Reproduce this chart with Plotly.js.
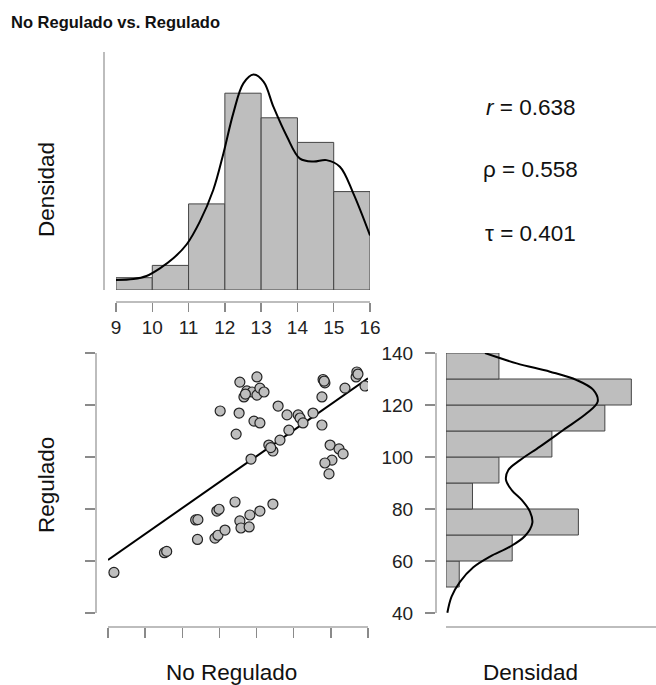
<!DOCTYPE html>
<html>
<head>
<meta charset="utf-8">
<script src="https://cdn.plot.ly/plotly-3.0.1.min.js"></script>
<style>html,body{margin:0;padding:0;background:#fff;}#chart{width:656px;height:685px;}</style>
</head>
<body>
<div id="chart"></div>
<script>
// ---- data ----
var noRegulado = [9.16,10.52,10.58,11.36,11.42,11.41,11.88,11.96,12.15,11.93,11.99,12.42,12.55,12.58,12.80,12.82,13.09,13.44,12.02,12.53,12.45,12.55,13.01,12.66,12.74,12.88,13.01,13.09,13.20,12.70,12.93,13.09,12.85,13.33,13.44,13.63,13.58,13.82,13.87,14.12,14.17,14.25,14.52,14.79,14.84,14.76,14.76,14.98,15.03,14.84,14.95,15.22,15.33,15.38,15.68,15.70,15.73,15.92,13.38,14.82];
var regulado   = [55.6,63.2,63.7,75.8,75.9,68.3,68.8,69.9,71.9,79.2,79.9,82.7,75.4,72.7,73.1,77.7,79.2,81.9,117.7,116.9,108.8,128.8,130.8,123.1,125.4,125.0,123.8,126.5,125.0,124.2,113.8,113.1,99.2,104.6,102.3,106.5,119.6,116.2,110.3,116.2,115.0,113.1,116.9,129.8,128.5,123.1,112.3,104.6,98.8,97.7,93.5,103.1,101.2,126.5,130.8,132.7,131.9,127.3,103.6,129.2];

var fitX = [9, 16];
var fitY = [60.4, 130.3];

var topBinStart = [9,10,11,12,13,14,15];
var topBinCounts = [1,2,7,16,14,12,8];
var topBinWidth = 1;

var rightBinStart = [50,60,70,80,90,100,110,120,130];
var rightBinCounts = [1,5,10,2,4,8,12,14,4];
var rightBinWidth = 10;

var topDensX = [9.0,9.48,9.84,10.21,10.58,10.95,11.31,11.68,11.96,12.23,12.51,12.79,13.07,13.34,13.71,14.07,14.44,14.80,15.17,15.54,16.0];
var topDensY = [0.0136,0.0149,0.019,0.0294,0.043,0.062,0.0926,0.1355,0.185,0.239,0.280,0.292,0.282,0.248,0.208,0.178,0.174,0.176,0.167,0.131,0.074];

var rightDensVal = [40.1,46.3,52.0,57.6,61.7,65.5,69.6,74.7,79.0,83.5,87.3,91.2,95.0,98.8,104.0,110.4,116.8,121.3,125.8,129.6,132.8,136.0,140.0];
var rightDensD   = [0.00017,0.0007,0.00176,0.00344,0.00554,0.00806,0.00994,0.01087,0.01057,0.00953,0.00827,0.00755,0.00785,0.00932,0.01183,0.01477,0.01771,0.0191,0.01855,0.01645,0.01309,0.0089,0.00491];

var corrLabels = ['<i>r</i> = 0.638', 'ρ = 0.558', 'τ = 0.401'];
var titleText = 'No Regulado vs. Regulado';
var xTitle = 'No Regulado', yTitle = 'Regulado', densTitle = 'Densidad';
var scatterXTicks = [9,10,11,12,13,14,15,16];
var scatterYTicks = [40,60,80,100,120,140];

// ---- derived ----
var topCenters = topBinStart.map(function(s){return s + topBinWidth/2;});
var topTotal = topBinCounts.reduce(function(a,b){return a+b;},0);
var topDens = topBinCounts.map(function(c){return c/(topTotal*topBinWidth);});
var rightCenters = rightBinStart.map(function(s){return s + rightBinWidth/2;});
var rightTotal = rightBinCounts.reduce(function(a,b){return a+b;},0);
var rightDens = rightBinCounts.map(function(c){return c/(rightTotal*rightBinWidth);});

var W = 656, H = 685;
function fx(p){return p/W;}
function fy(p){return 1 - p/H;}

var FONT = 'Liberation Sans, Arial, sans-serif';
var barFill = '#BEBEBE', barLine = '#444444';
var axisLine = '#bdbdbd', tickCol = '#8a8a8a';

var traces = [
  {type:'bar', x: topCenters, y: topDens, width: topBinWidth, xaxis:'x', yaxis:'y',
   marker:{color:barFill, line:{color:barLine, width:1}}, hoverinfo:'skip'},
  {type:'scatter', mode:'lines', x: topDensX, y: topDensY, xaxis:'x', yaxis:'y',
   line:{color:'#000', width:2, shape:'spline'}, hoverinfo:'skip'},
  {type:'scatter', mode:'lines', x: fitX, y: fitY, xaxis:'x2', yaxis:'y2',
   line:{color:'#000', width:2}, hoverinfo:'skip'},
  {type:'scatter', mode:'markers', x: noRegulado, y: regulado, xaxis:'x2', yaxis:'y2',
   marker:{size:10, color:barFill, line:{color:'#222', width:1.2}}, hoverinfo:'skip'},
  {type:'bar', orientation:'h', y: rightCenters, x: rightDens, width: rightBinWidth, xaxis:'x3', yaxis:'y3',
   marker:{color:barFill, line:{color:barLine, width:1}}, hoverinfo:'skip'},
  {type:'scatter', mode:'lines', x: rightDensD, y: rightDensVal, xaxis:'x3', yaxis:'y3',
   line:{color:'#000', width:2, shape:'spline'}, hoverinfo:'skip'}
];

var tickFont = {family: FONT, size: 19, color: '#222'};

var layout = {
  width: W, height: H,
  margin:{l:0, r:0, t:0, b:0},
  paper_bgcolor:'#fff', plot_bgcolor:'rgba(0,0,0,0)',
  showlegend:false, bargap:0,
  font:{family: FONT, color:'#222'},
  xaxis:{domain:[fx(116), fx(370)], range:[9,16], anchor:'free', position: fy(301),
         showline:true, linecolor:axisLine, linewidth:1.5, ticks:'outside', ticklen:9, tickcolor:tickCol, tickwidth:1.5,
         tickvals: scatterXTicks, tickfont: tickFont, showgrid:false, zeroline:false, fixedrange:true},
  yaxis:{domain:[fy(290), fy(52)], range:[0, 0.3225], anchor:'free', position: fx(103),
         showline:true, linecolor:axisLine, linewidth:1.5, ticks:'', showticklabels:false,
         showgrid:false, zeroline:false, fixedrange:true},
  xaxis2:{domain:[fx(108), fx(368)], range:[9,16], anchor:'free', position: fy(626),
         showline:true, linecolor:axisLine, linewidth:1.5, ticks:'outside', ticklen:10, tickcolor:tickCol, tickwidth:1.5,
         tickvals: scatterXTicks, showticklabels:false, showgrid:false, zeroline:false, fixedrange:true},
  yaxis2:{domain:[fy(613), fy(353)], range:[40,140], anchor:'free', position: fx(95),
         showline:true, linecolor:axisLine, linewidth:1.5, ticks:'outside', ticklen:10, tickcolor:tickCol, tickwidth:1.5,
         tickvals: scatterYTicks, showticklabels:false, showgrid:false, zeroline:false, fixedrange:true},
  xaxis3:{domain:[fx(446), 1], range:[0, 0.02644], anchor:'free', position: fy(626),
         showline:true, linecolor:axisLine, linewidth:1.5, ticks:'', showticklabels:false,
         showgrid:false, zeroline:false, fixedrange:true},
  yaxis3:{domain:[fy(613), fy(353)], range:[40,140], anchor:'free', position: fx(435),
         showline:true, linecolor:axisLine, linewidth:1.5, ticks:'outside', ticklen:10, tickcolor:tickCol, tickwidth:1.5,
         ticklabelstandoff: 8,
         tickvals: scatterYTicks, tickfont: tickFont, showgrid:false, zeroline:false, fixedrange:true},
  annotations:[
    {text:'<b>'+titleText+'</b>', xref:'paper', yref:'paper', x: fx(9), y: fy(22), xanchor:'left', yanchor:'middle',
     showarrow:false, font:{family:FONT, size:16.5, color:'#111'}},
    {text: densTitle, xref:'paper', yref:'paper', x: fx(46), y: fy(190), textangle:-90, xanchor:'center', yanchor:'middle',
     showarrow:false, font:{family:FONT, size:22.5, color:'#111'}},
    {text: yTitle, xref:'paper', yref:'paper', x: fx(46), y: fy(485), textangle:-90, xanchor:'center', yanchor:'middle',
     showarrow:false, font:{family:FONT, size:22.5, color:'#111'}},
    {text: xTitle, xref:'paper', yref:'paper', x: fx(231), y: fy(672), xanchor:'center', yanchor:'middle',
     showarrow:false, font:{family:FONT, size:22.5, color:'#111'}},
    {text: densTitle, xref:'paper', yref:'paper', x: fx(530), y: fy(672), xanchor:'center', yanchor:'middle',
     showarrow:false, font:{family:FONT, size:22.5, color:'#111'}},
    {text: corrLabels[0], xref:'paper', yref:'paper', x: fx(530), y: fy(108), xanchor:'center', yanchor:'middle',
     showarrow:false, font:{family:FONT, size:22.5, color:'#111'}},
    {text: corrLabels[1], xref:'paper', yref:'paper', x: fx(530), y: fy(169), xanchor:'center', yanchor:'middle',
     showarrow:false, font:{family:FONT, size:22.5, color:'#111'}},
    {text: corrLabels[2], xref:'paper', yref:'paper', x: fx(530), y: fy(233), xanchor:'center', yanchor:'middle',
     showarrow:false, font:{family:FONT, size:22.5, color:'#111'}}
  ]
};

Plotly.newPlot('chart', traces, layout, {displayModeBar:false, staticPlot:true});
</script>
</body>
</html>
